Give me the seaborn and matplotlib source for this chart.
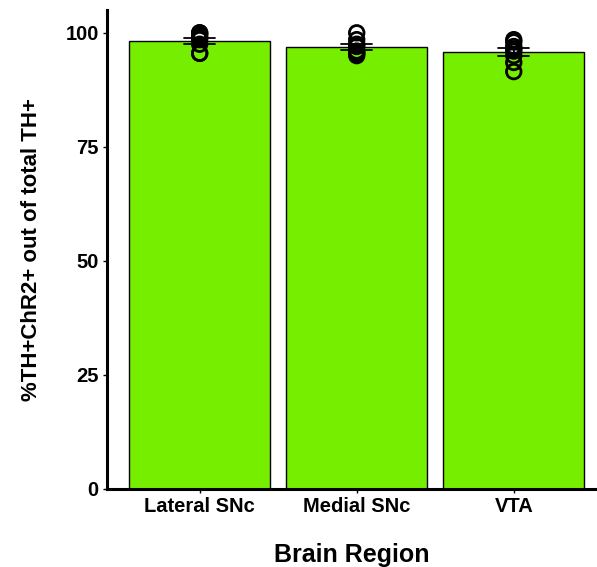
import matplotlib
matplotlib.use("Agg")
import matplotlib.pyplot as plt
import seaborn as sns
import pandas as pd

# Percentage of TH+ neurons co-expressing ChR2, per animal, by region
regions = ["Lateral SNc", "Medial SNc", "VTA"]
lateral_snc = [100, 100, 99.5, 99, 98.5, 97.5, 95.5, 95.5]
medial_snc = [100, 98.5, 97.5, 97, 96, 95.5, 95.5, 95]
vta = [98.5, 98, 97, 96.5, 96, 95, 93.5, 91.5]
y_ticks = [0, 25, 50, 75, 100]

df = pd.DataFrame({
    "region": [regions[0]] * len(lateral_snc)
    + [regions[1]] * len(medial_snc)
    + [regions[2]] * len(vta),
    "pct": lateral_snc + medial_snc + vta,
})

sns.set_style("white")
plt.rcParams["font.family"] = ["Liberation Sans", "DejaVu Sans"]
plt.rcParams["font.weight"] = "bold"
plt.rcParams["text.color"] = "black"
plt.rcParams["axes.labelcolor"] = "black"

W, H = 597, 567
fig = plt.figure(figsize=(W / 100, H / 100), dpi=100)
ax = fig.add_axes([107 / W, (H - 489) / H, 490 / W, (489 - 10) / H])

sns.barplot(
    data=df, x="region", y="pct", order=regions, ax=ax,
    color="#76EE00", saturation=1, width=0.9,
    edgecolor="black", linewidth=1.0,
    errorbar="se", capsize=0.2,
    err_kws={"color": "black", "linewidth": 1.3},
)
sns.stripplot(
    data=df, x="region", y="pct", order=regions, ax=ax,
    jitter=False, color="black", size=10.5, linewidth=2.0,
)
for coll in ax.collections:
    coll.set_facecolor("none")
    coll.set_edgecolor("black")
    coll.set_linewidth(2.0)

ax.set_ylim(0, 105)
ax.set_xlim(-0.59, 2.53)
ax.set_yticks(y_ticks)
ax.set_yticklabels([str(t) for t in y_ticks])

for side in ("top", "right"):
    ax.spines[side].set_visible(False)
for side in ("left", "bottom"):
    ax.spines[side].set_color("black")
    ax.spines[side].set_linewidth(2.2)

ax.tick_params(axis="both", which="both", left=True, bottom=True,
               length=3, width=1, color="black", labelsize=14.5,
               labelcolor="black", pad=3)
for lbl in ax.get_xticklabels() + ax.get_yticklabels():
    lbl.set_fontweight("bold")

ax.set_xlabel("Brain Region", fontsize=18, fontweight="bold", labelpad=19,
              color="black")
ax.set_ylabel("%TH+ChR2+ out of total TH+", fontsize=16, fontweight="bold",
              labelpad=17, color="black")

fig.savefig("out.png", dpi=100)
